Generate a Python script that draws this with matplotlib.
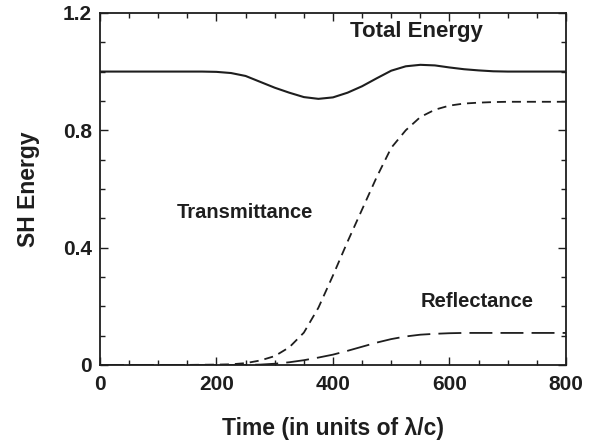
import matplotlib
matplotlib.use("Agg")
import matplotlib.pyplot as plt
from matplotlib.ticker import MultipleLocator

plt.rcParams['font.family'] = ['Liberation Sans', 'DejaVu Sans']
plt.rcParams['font.weight'] = 'bold'

# Values
time = [0, 25, 50, 75, 100, 125, 150, 175, 200, 225, 250, 275, 300, 325,
        350, 375, 400, 425, 450, 475, 500, 525, 550, 575, 600, 625, 650,
        675, 700, 725, 750, 775, 800]
total_energy = [1.0, 1.0, 1.0, 1.0, 1.0, 1.0, 1.0, 1.0, 0.999, 0.995,
                0.985, 0.965, 0.945, 0.928, 0.913, 0.907, 0.912, 0.928,
                0.95, 0.977, 1.003, 1.018, 1.023, 1.021, 1.014, 1.008,
                1.004, 1.001, 1.0, 1.0, 1.0, 1.0, 1.0]
transmittance = [0, 0, 0, 0, 0, 0, 0, 0.0005, 0.001, 0.002, 0.006, 0.015,
                 0.03, 0.06, 0.11, 0.195, 0.305, 0.42, 0.53, 0.64, 0.74,
                 0.80, 0.845, 0.87, 0.884, 0.891, 0.894, 0.896, 0.897,
                 0.897, 0.897, 0.897, 0.897]
reflectance = [0, 0, 0, 0, 0, 0, 0, 0, 0, 0, 0, 0.001, 0.004, 0.009,
               0.016, 0.025, 0.035, 0.048, 0.062, 0.076, 0.088, 0.097,
               0.103, 0.106, 0.108, 0.109, 0.109, 0.109, 0.109, 0.109,
               0.109, 0.109, 0.109]

fig = plt.figure(figsize=(5.97, 4.45), dpi=100)
ax = fig.add_axes([0.1675, 0.18, 0.7805, 0.791])

ink = '#1e1e1e'
ax.plot(time, total_energy, color=ink, lw=1.5)
ax.plot(time, transmittance, color=ink, lw=1.3, dashes=(5, 3.3))
ax.plot(time, reflectance, color=ink, lw=1.3, dashes=(12.7, 4.5))

ax.text(544, 1.137, 'Total Energy', ha='center', va='center', fontsize=16,
        fontweight='bold', color=ink)
ax.text(249, 0.52, 'Transmittance', ha='center', va='center', fontsize=14.5,
        fontweight='bold', color=ink)
ax.text(647, 0.215, 'Reflectance', ha='center', va='center', fontsize=14.5,
        fontweight='bold', color=ink)

ax.set_xlim(0, 800)
ax.set_ylim(0, 1.2)
ax.set_xticks([0, 200, 400, 600, 800])
ax.set_yticks([0, 0.4, 0.8, 1.2])
ax.set_yticklabels(['0', '0.4', '0.8', '1.2'])
ax.xaxis.set_minor_locator(MultipleLocator(50))
ax.yaxis.set_minor_locator(MultipleLocator(0.1))
ax.tick_params(which='both', direction='in', top=True, right=True,
               labelsize=15, colors=ink, width=1)
ax.tick_params(which='major', length=6)
ax.tick_params(which='minor', length=3.5)
ax.tick_params(axis='x', which='major', pad=7)
ax.tick_params(axis='y', which='major', pad=6)
for s in ax.spines.values():
    s.set_linewidth(1.3)
    s.set_color(ink)

ax.set_xlabel('Time (in units of λ/c)', fontsize=16.5, fontweight='bold',
              labelpad=17, color=ink)
ax.set_ylabel('SH Energy', fontsize=16.5, fontweight='bold', labelpad=16,
              color=ink)

fig.savefig('out.png', dpi=100)
